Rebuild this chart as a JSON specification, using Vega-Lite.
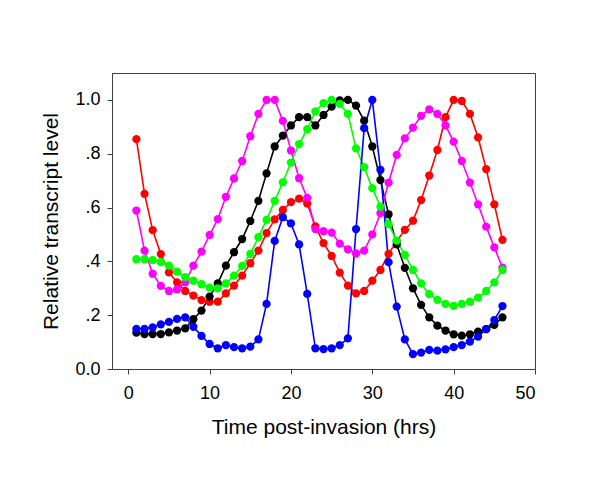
{
  "$schema": "https://vega.github.io/schema/vega-lite/v6.json",
  "autosize": {"type": "none"},
  "padding": {"left": 112, "top": 73, "right": 65, "bottom": 110},
  "width": 423,
  "height": 296,
  "background": "white",
  "config": {
    "font": "Liberation Sans",
    "view": {"stroke": "#404040", "strokeWidth": 1}
  },
  "data": {
    "values": [
      {"s":"red","x":1,"y":0.854},{"s":"red","x":2,"y":0.651},{"s":"red","x":3,"y":0.516},{"s":"red","x":4,"y":0.427},{"s":"red","x":5,"y":0.359},{"s":"red","x":6,"y":0.322},{"s":"red","x":7,"y":0.29},{"s":"red","x":8,"y":0.273},{"s":"red","x":9,"y":0.256},{"s":"red","x":10,"y":0.25},{"s":"red","x":11,"y":0.25},{"s":"red","x":12,"y":0.281},{"s":"red","x":13,"y":0.31},{"s":"red","x":14,"y":0.347},{"s":"red","x":15,"y":0.393},{"s":"red","x":16,"y":0.44},{"s":"red","x":17,"y":0.505},{"s":"red","x":18,"y":0.556},{"s":"red","x":19,"y":0.591},{"s":"red","x":20,"y":0.62},{"s":"red","x":21,"y":0.633},{"s":"red","x":22,"y":0.615},{"s":"red","x":23,"y":0.53},{"s":"red","x":24,"y":0.468},{"s":"red","x":25,"y":0.42},{"s":"red","x":26,"y":0.358},{"s":"red","x":27,"y":0.31},{"s":"red","x":28,"y":0.281},{"s":"red","x":29,"y":0.29},{"s":"red","x":30,"y":0.328},{"s":"red","x":31,"y":0.368},{"s":"red","x":32,"y":0.428},{"s":"red","x":33,"y":0.475},{"s":"red","x":34,"y":0.517},{"s":"red","x":35,"y":0.551},{"s":"red","x":36,"y":0.628},{"s":"red","x":37,"y":0.719},{"s":"red","x":38,"y":0.814},{"s":"red","x":39,"y":0.936},{"s":"red","x":40,"y":1.0},{"s":"red","x":41,"y":0.996},{"s":"red","x":42,"y":0.948},{"s":"red","x":43,"y":0.861},{"s":"red","x":44,"y":0.743},{"s":"red","x":45,"y":0.612},{"s":"red","x":46,"y":0.48},
      {"s":"black","x":1,"y":0.135},{"s":"black","x":2,"y":0.13},{"s":"black","x":3,"y":0.13},{"s":"black","x":4,"y":0.13},{"s":"black","x":5,"y":0.136},{"s":"black","x":6,"y":0.143},{"s":"black","x":7,"y":0.151},{"s":"black","x":8,"y":0.185},{"s":"black","x":9,"y":0.217},{"s":"black","x":10,"y":0.269},{"s":"black","x":11,"y":0.318},{"s":"black","x":12,"y":0.384},{"s":"black","x":13,"y":0.434},{"s":"black","x":14,"y":0.483},{"s":"black","x":15,"y":0.55},{"s":"black","x":16,"y":0.625},{"s":"black","x":17,"y":0.727},{"s":"black","x":18,"y":0.827},{"s":"black","x":19,"y":0.867},{"s":"black","x":20,"y":0.905},{"s":"black","x":21,"y":0.936},{"s":"black","x":22,"y":0.936},{"s":"black","x":23,"y":0.905},{"s":"black","x":24,"y":0.944},{"s":"black","x":25,"y":0.975},{"s":"black","x":26,"y":0.998},{"s":"black","x":27,"y":1.0},{"s":"black","x":28,"y":0.979},{"s":"black","x":29,"y":0.923},{"s":"black","x":30,"y":0.827},{"s":"black","x":31,"y":0.702},{"s":"black","x":32,"y":0.575},{"s":"black","x":33,"y":0.463},{"s":"black","x":34,"y":0.376},{"s":"black","x":35,"y":0.3},{"s":"black","x":36,"y":0.238},{"s":"black","x":37,"y":0.192},{"s":"black","x":38,"y":0.161},{"s":"black","x":39,"y":0.143},{"s":"black","x":40,"y":0.129},{"s":"black","x":41,"y":0.124},{"s":"black","x":42,"y":0.129},{"s":"black","x":43,"y":0.139},{"s":"black","x":44,"y":0.148},{"s":"black","x":45,"y":0.164},{"s":"black","x":46,"y":0.192},
      {"s":"magenta","x":1,"y":0.589},{"s":"magenta","x":2,"y":0.44},{"s":"magenta","x":3,"y":0.354},{"s":"magenta","x":4,"y":0.309},{"s":"magenta","x":5,"y":0.29},{"s":"magenta","x":6,"y":0.296},{"s":"magenta","x":7,"y":0.322},{"s":"magenta","x":8,"y":0.384},{"s":"magenta","x":9,"y":0.436},{"s":"magenta","x":10,"y":0.498},{"s":"magenta","x":11,"y":0.557},{"s":"magenta","x":12,"y":0.64},{"s":"magenta","x":13,"y":0.708},{"s":"magenta","x":14,"y":0.773},{"s":"magenta","x":15,"y":0.865},{"s":"magenta","x":16,"y":0.948},{"s":"magenta","x":17,"y":1.0},{"s":"magenta","x":18,"y":1.0},{"s":"magenta","x":19,"y":0.922},{"s":"magenta","x":20,"y":0.812},{"s":"magenta","x":21,"y":0.709},{"s":"magenta","x":22,"y":0.636},{"s":"magenta","x":23,"y":0.52},{"s":"magenta","x":24,"y":0.512},{"s":"magenta","x":25,"y":0.507},{"s":"magenta","x":26,"y":0.466},{"s":"magenta","x":27,"y":0.445},{"s":"magenta","x":28,"y":0.43},{"s":"magenta","x":29,"y":0.44},{"s":"magenta","x":30,"y":0.5},{"s":"magenta","x":31,"y":0.579},{"s":"magenta","x":32,"y":0.693},{"s":"magenta","x":33,"y":0.796},{"s":"magenta","x":34,"y":0.857},{"s":"magenta","x":35,"y":0.897},{"s":"magenta","x":36,"y":0.941},{"s":"magenta","x":37,"y":0.965},{"s":"magenta","x":38,"y":0.948},{"s":"magenta","x":39,"y":0.905},{"s":"magenta","x":40,"y":0.845},{"s":"magenta","x":41,"y":0.773},{"s":"magenta","x":42,"y":0.693},{"s":"magenta","x":43,"y":0.612},{"s":"magenta","x":44,"y":0.529},{"s":"magenta","x":45,"y":0.452},{"s":"magenta","x":46,"y":0.377},
      {"s":"green","x":1,"y":0.408},{"s":"green","x":2,"y":0.408},{"s":"green","x":3,"y":0.405},{"s":"green","x":4,"y":0.397},{"s":"green","x":5,"y":0.384},{"s":"green","x":6,"y":0.362},{"s":"green","x":7,"y":0.341},{"s":"green","x":8,"y":0.328},{"s":"green","x":9,"y":0.315},{"s":"green","x":10,"y":0.302},{"s":"green","x":11,"y":0.3},{"s":"green","x":12,"y":0.318},{"s":"green","x":13,"y":0.347},{"s":"green","x":14,"y":0.383},{"s":"green","x":15,"y":0.428},{"s":"green","x":16,"y":0.49},{"s":"green","x":17,"y":0.554},{"s":"green","x":18,"y":0.625},{"s":"green","x":19,"y":0.694},{"s":"green","x":20,"y":0.767},{"s":"green","x":21,"y":0.836},{"s":"green","x":22,"y":0.891},{"s":"green","x":23,"y":0.957},{"s":"green","x":24,"y":0.988},{"s":"green","x":25,"y":1.0},{"s":"green","x":26,"y":0.985},{"s":"green","x":27,"y":0.948},{"s":"green","x":28,"y":0.82},{"s":"green","x":29,"y":0.75},{"s":"green","x":30,"y":0.672},{"s":"green","x":31,"y":0.603},{"s":"green","x":32,"y":0.538},{"s":"green","x":33,"y":0.477},{"s":"green","x":34,"y":0.424},{"s":"green","x":35,"y":0.368},{"s":"green","x":36,"y":0.318},{"s":"green","x":37,"y":0.278},{"s":"green","x":38,"y":0.257},{"s":"green","x":39,"y":0.242},{"s":"green","x":40,"y":0.235},{"s":"green","x":41,"y":0.242},{"s":"green","x":42,"y":0.25},{"s":"green","x":43,"y":0.265},{"s":"green","x":44,"y":0.29},{"s":"green","x":45,"y":0.322},{"s":"green","x":46,"y":0.368},
      {"s":"blue","x":1,"y":0.149},{"s":"blue","x":2,"y":0.149},{"s":"blue","x":3,"y":0.155},{"s":"blue","x":4,"y":0.166},{"s":"blue","x":5,"y":0.175},{"s":"blue","x":6,"y":0.186},{"s":"blue","x":7,"y":0.192},{"s":"blue","x":8,"y":0.157},{"s":"blue","x":9,"y":0.123},{"s":"blue","x":10,"y":0.093},{"s":"blue","x":11,"y":0.077},{"s":"blue","x":12,"y":0.089},{"s":"blue","x":13,"y":0.081},{"s":"blue","x":14,"y":0.077},{"s":"blue","x":15,"y":0.083},{"s":"blue","x":16,"y":0.11},{"s":"blue","x":17,"y":0.242},{"s":"blue","x":18,"y":0.476},{"s":"blue","x":19,"y":0.564},{"s":"blue","x":20,"y":0.541},{"s":"blue","x":21,"y":0.463},{"s":"blue","x":22,"y":0.279},{"s":"blue","x":23,"y":0.077},{"s":"blue","x":24,"y":0.074},{"s":"blue","x":25,"y":0.077},{"s":"blue","x":26,"y":0.089},{"s":"blue","x":27,"y":0.114},{"s":"blue","x":28,"y":0.52},{"s":"blue","x":29,"y":0.895},{"s":"blue","x":30,"y":1.0},{"s":"blue","x":31,"y":0.74},{"s":"blue","x":32,"y":0.397},{"s":"blue","x":33,"y":0.232},{"s":"blue","x":34,"y":0.11},{"s":"blue","x":35,"y":0.055},{"s":"blue","x":36,"y":0.061},{"s":"blue","x":37,"y":0.071},{"s":"blue","x":38,"y":0.068},{"s":"blue","x":39,"y":0.073},{"s":"blue","x":40,"y":0.081},{"s":"blue","x":41,"y":0.089},{"s":"blue","x":42,"y":0.102},{"s":"blue","x":43,"y":0.12},{"s":"blue","x":44,"y":0.148},{"s":"blue","x":45,"y":0.182},{"s":"blue","x":46,"y":0.234}
    ]
  },
  "encoding": {
    "x": {
      "field": "x", "type": "quantitative",
      "scale": {"domain": [-2, 50], "nice": false, "zero": false},
      "axis": {
        "title": "Time post-invasion (hrs)",
        "values": [0, 10, 20, 30, 40, 50],
        "grid": false,
        "domainColor": "#404040", "tickColor": "#404040",
        "tickSize": 5, "labelPadding": 10,
        "labelFontSize": 18, "labelColor": "black", "labelFont": "Liberation Sans",
        "titleFontSize": 21, "titleFontWeight": "normal", "titleColor": "black", "titleFont": "Liberation Sans",
        "titleBaseline": "alphabetic", "titleY": 64
      }
    },
    "y": {
      "field": "y", "type": "quantitative",
      "scale": {"domain": [0, 1.1], "nice": false},
      "axis": {
        "title": "Relative transcript level",
        "values": [0, 0.2, 0.4, 0.6, 0.8, 1.0],
        "labelExpr": "datum.value == 0 ? '0.0' : datum.value == 1 ? '1.0' : replace(format(datum.value, '.1f'), '0.', '.')",
        "grid": false,
        "domainColor": "#404040", "tickColor": "#404040",
        "tickSize": 5, "labelPadding": 7,
        "labelFontSize": 18, "labelColor": "black", "labelFont": "Liberation Sans",
        "titleFontSize": 21, "titleFontWeight": "normal", "titleColor": "black", "titleFont": "Liberation Sans",
        "titleBaseline": "alphabetic", "titleX": -55, "titleAngle": -90
      }
    },
    "color": {
      "field": "s", "type": "nominal",
      "scale": {"domain": ["red", "black", "magenta", "green", "blue"], "range": ["#ff0000", "#000000", "#ff00ff", "#00ff00", "#0000ff"]},
      "legend": null
    }
  },
  "layer": [
    {"mark": {"type": "line", "strokeWidth": 1.6}},
    {"mark": {"type": "point", "filled": true, "size": 68, "opacity": 1}}
  ]
}
